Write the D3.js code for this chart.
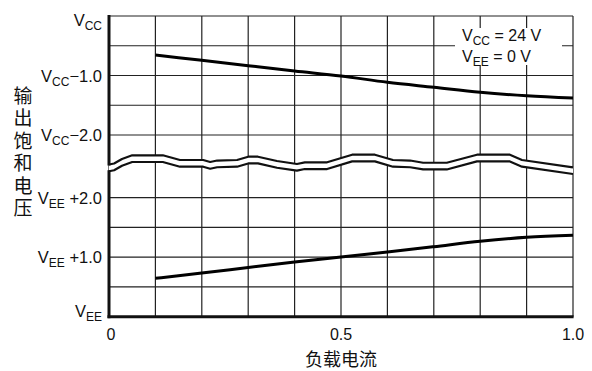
<!DOCTYPE html>
<html>
<head>
<meta charset="utf-8">
<script src="https://cdn.jsdelivr.net/npm/d3@7"></script>
<style>
  body { margin: 0; background: #fff; }
  svg { display: block; }
  text { font-family: "Liberation Sans", Arial, sans-serif; fill: #111; }
  .cjk { font-family: "Noto Sans CJK SC", sans-serif; }
</style>
</head>
<body>
<svg width="592" height="371"></svg>
<script>
// load current (x) and output saturation voltage (V from the rail)
const loadCurrent = [0.1, 0.2, 0.3, 0.4, 0.5, 0.6, 0.7, 0.8, 0.9, 1.0];
const vccDrop = [-0.655, -0.745, -0.835, -0.924, -1.008, -1.114, -1.198, -1.282, -1.34, -1.378];
const veeRise = [0.645, 0.734, 0.827, 0.919, 1.003, 1.087, 1.176, 1.267, 1.334, 1.368];

const xTicks = [0, 0.5, 1.0];
const xTickLabels = ["0", "0.5", "1.0"];
const topTicks = [0, -1, -2];
const topTickLabels = ["", "−1.0", "−2.0"];
const botTicks = [2, 1, 0];
const botTickLabels = [" +2.0", " +1.0", ""];

// axis break wave (x in load current, y in the upper scale)
const breakX = [0, 0.011, 0.028, 0.05, 0.116, 0.153, 0.203, 0.218, 0.233, 0.276, 0.3, 0.321, 0.362,
  0.405, 0.422, 0.47, 0.524, 0.573, 0.612, 0.649, 0.677, 0.728, 0.793, 0.864, 0.89, 1.0];
const breakTop = [-2.496, -2.479, -2.403, -2.341, -2.341, -2.42, -2.42, -2.454, -2.429, -2.42, -2.365, -2.365, -2.437,
  -2.487, -2.459, -2.459, -2.331, -2.331, -2.42, -2.429, -2.466, -2.466, -2.331, -2.331, -2.42, -2.543];
const breakGap = 0.113;

const svg = d3.select("svg");
const left = 109, right = 573;

const x = d3.scaleLinear().domain([0, 1]).range([left, right]);
const yTop = d3.scaleLinear().domain([-2, 0]).range([135, 16]);
const yBot = d3.scaleLinear().domain([0, 2]).range([316.7, 197.7]);

const grid = svg.append("g").attr("stroke", "#222").attr("stroke-width", 1.2);

// vertical grid lines over the full height
grid.selectAll(".vg")
    .data(d3.range(0, 1.0001, 0.1))
    .enter().append("line")
    .attr("x1", d => x(d)).attr("x2", d => x(d))
    .attr("y1", yTop(0)).attr("y2", yBot(0));

// horizontal grid lines, upper and lower panels
grid.selectAll(".hgt")
    .data(d3.range(-2, 0.001, 0.5))
    .enter().append("line")
    .attr("x1", left).attr("x2", right)
    .attr("y1", d => yTop(d)).attr("y2", d => yTop(d));
grid.selectAll(".hgb")
    .data(d3.range(0, 2.001, 0.5))
    .enter().append("line")
    .attr("x1", left).attr("x2", right)
    .attr("y1", d => yBot(d)).attr("y2", d => yBot(d));

// axis break
const wave = breakX.map((d, i) => ({ x: d, y: breakTop[i] }));
svg.append("path")
    .datum(wave)
    .attr("fill", "#fff")
    .attr("d", d3.area().x(d => x(d.x)).y0(d => yTop(d.y)).y1(d => yTop(d.y - breakGap)));
[0, breakGap].forEach(off => {
    svg.append("path")
        .datum(wave)
        .attr("fill", "none")
        .attr("stroke", "#111")
        .attr("stroke-width", 2.2)
        .attr("stroke-linejoin", "round")
        .attr("d", d3.line().x(d => x(d.x)).y(d => yTop(d.y - off)));
});

// thick left and bottom axes
const axisG = svg.append("g").attr("stroke", "#111").attr("stroke-width", 3);
axisG.append("line")
    .attr("x1", left).attr("x2", left)
    .attr("y1", yTop(0) - 1).attr("y2", yTop(breakTop[0]) + 1);
axisG.append("line")
    .attr("x1", left).attr("x2", left)
    .attr("y1", yTop(breakTop[0] - breakGap) - 1).attr("y2", yBot(0) + 1.5);
axisG.append("line")
    .attr("x1", left - 1.5).attr("x2", right + 0.6)
    .attr("y1", yBot(0)).attr("y2", yBot(0));

// curves
const line = d3.line().curve(d3.curveMonotoneX).x(d => x(d[0])).y(d => d[1]);
svg.append("path")
    .datum(loadCurrent.map((d, i) => [d, yTop(vccDrop[i])]))
    .attr("fill", "none").attr("stroke", "#000").attr("stroke-width", 3)
    .attr("d", line);
svg.append("path")
    .datum(loadCurrent.map((d, i) => [d, yBot(veeRise[i])]))
    .attr("fill", "none").attr("stroke", "#000").attr("stroke-width", 3)
    .attr("d", line);

// y tick labels
function railLabel(yPos, sub, rest) {
    const t = svg.append("text")
        .attr("x", 102).attr("y", yPos)
        .attr("text-anchor", "end")
        .attr("font-size", 16.5);
    t.append("tspan").text("V");
    t.append("tspan").attr("font-size", 12).attr("dy", 4).text(sub);
    if (rest) t.append("tspan").attr("dy", -4).attr("font-size", 16.5).attr("xml:space", "preserve").text(rest);
}
topTicks.forEach((d, i) => railLabel(yTop(d) + 6 + (d === 0 ? 4 : 0), "CC", topTickLabels[i]));
botTicks.forEach((d, i) => railLabel(yBot(d) + 6 - (d === 0 ? 6 : 0), "EE", botTickLabels[i]));

// x tick labels
svg.selectAll(".xl")
    .data(xTicks)
    .enter().append("text")
    .attr("x", d => x(d) + (d === 0 ? 2 : 0))
    .attr("y", 340)
    .attr("text-anchor", "middle")
    .attr("font-size", 16)
    .text((d, i) => xTickLabels[i]);

// axis titles
svg.append("text")
    .attr("class", "cjk")
    .attr("x", 341).attr("y", 365.5)
    .attr("text-anchor", "middle")
    .attr("font-size", 18)
    .text("负载电流");

svg.append("text")
    .attr("class", "cjk")
    .attr("x", 23)
    .attr("y", 86)
    .attr("font-size", 19)
    .style("writing-mode", "vertical-rl")
    .style("letter-spacing", "3.5px")
    .text("输出饱和电压");

// condition note
svg.append("rect")
    .attr("x", 455).attr("y", 28).attr("width", 107).attr("height", 37)
    .attr("fill", "#fff");
[["CC", " = 24 V", 41], ["EE", " = 0 V", 62]].forEach(([sub, rest, yy]) => {
    const t = svg.append("text").attr("x", 462).attr("y", yy).attr("font-size", 16);
    t.append("tspan").text("V");
    t.append("tspan").attr("font-size", 12).attr("dy", 4).text(sub);
    t.append("tspan").attr("font-size", 16).attr("dy", -4).attr("xml:space", "preserve").text(rest);
});
</script>
</body>
</html>
